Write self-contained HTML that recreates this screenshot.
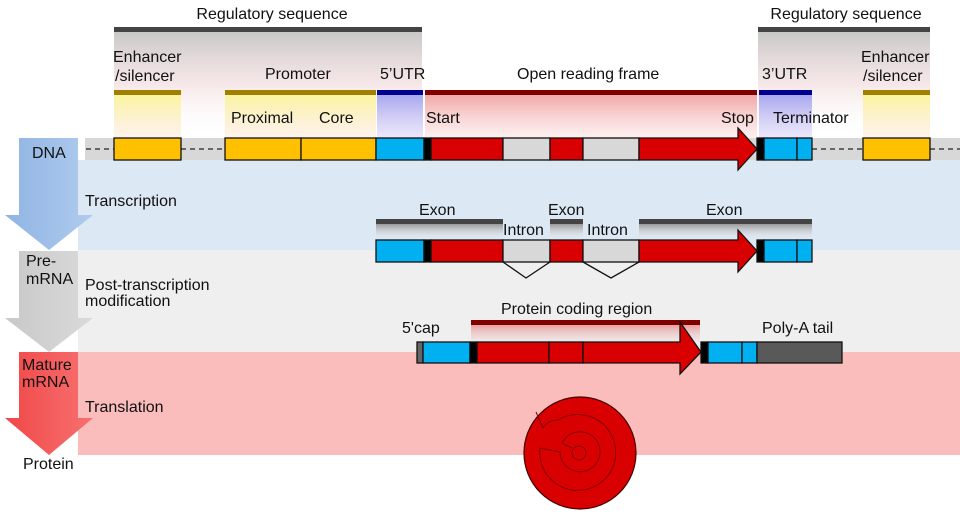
<!DOCTYPE html>
<html><head><style>
html,body{margin:0;padding:0;background:#fff;}
svg text{font-family:"Liberation Sans","DejaVu Sans",sans-serif;font-size:16px;fill:#111;}
</style></head><body>
<svg width="960" height="517" viewBox="0 0 960 517" xmlns="http://www.w3.org/2000/svg">
<defs>
<linearGradient id="gg" x1="0" y1="0" x2="0" y2="1"><stop offset="0" stop-color="#c8c8c8"/><stop offset="0.5" stop-color="#f0d8d8" stop-opacity="0.6"/><stop offset="1" stop-color="#fff" stop-opacity="0"/></linearGradient>
<linearGradient id="yg" x1="0" y1="0" x2="0" y2="1"><stop offset="0" stop-color="#fbf5a0"/><stop offset="1" stop-color="#fde8d8" stop-opacity="0.5"/></linearGradient>
<linearGradient id="bg" x1="0" y1="0" x2="0" y2="1"><stop offset="0" stop-color="#a8a8f0"/><stop offset="1" stop-color="#e0d8f8" stop-opacity="0.6"/></linearGradient>
<linearGradient id="rg" x1="0" y1="0" x2="0" y2="1"><stop offset="0" stop-color="#f0a8a8"/><stop offset="1" stop-color="#fbe0e0" stop-opacity="0.5"/></linearGradient>
<linearGradient id="dg" x1="0" y1="0" x2="0" y2="1"><stop offset="0" stop-color="#999"/><stop offset="1" stop-color="#eee" stop-opacity="0"/></linearGradient>
<linearGradient id="pg" x1="0" y1="0" x2="0" y2="1"><stop offset="0" stop-color="#e8a0a0"/><stop offset="1" stop-color="#f0d8d8" stop-opacity="0.3"/></linearGradient>
<linearGradient id="ab" x1="0" y1="0" x2="1" y2="0"><stop offset="0" stop-color="#8fb4e3"/><stop offset="1" stop-color="#b0cbee"/></linearGradient>
<linearGradient id="ag" x1="0" y1="0" x2="1" y2="0"><stop offset="0" stop-color="#c8c8c8"/><stop offset="1" stop-color="#dadada"/></linearGradient>
<linearGradient id="ar" x1="0" y1="0" x2="1" y2="0"><stop offset="0" stop-color="#f04848"/><stop offset="1" stop-color="#f87070"/></linearGradient>
</defs>

<rect x="78" y="160" width="882" height="90" fill="#dde8f5"/>
<rect x="78" y="250" width="882" height="102" fill="#efefef"/>
<rect x="78" y="352" width="882" height="103" fill="#fbbcbc"/>
<rect x="85" y="138" width="875" height="22" fill="#d8d8d8"/>

<path d="M19 138 H78 V215 H93 L49 250 L5 215 H19 Z" fill="url(#ab)"/>
<path d="M19 251 H78 V318 H93 L49 352 L5 318 H19 Z" fill="url(#ag)"/>
<path d="M19 352 H78 V418 H93 L49 455 L5 418 H19 Z" fill="url(#ar)"/>

<rect x="114" y="32" width="308" height="106" fill="url(#gg)"/>
<rect x="114" y="27" width="308" height="5" fill="#444"/>
<rect x="758" y="32" width="172" height="106" fill="url(#gg)"/>
<rect x="758" y="27" width="172" height="5" fill="#444"/>

<rect x="114" y="95" width="67" height="43" fill="url(#yg)"/>
<rect x="225" y="95" width="151" height="43" fill="url(#yg)"/>
<rect x="377" y="95" width="46" height="43" fill="url(#bg)"/>
<rect x="425" y="95" width="332" height="43" fill="url(#rg)"/>
<rect x="759" y="95" width="53" height="43" fill="url(#bg)"/>
<rect x="863" y="95" width="67" height="43" fill="url(#yg)"/>
<rect x="114" y="90" width="67" height="5" fill="#a08000"/>
<rect x="225" y="90" width="151" height="5" fill="#a08000"/>
<rect x="377" y="90" width="46" height="5" fill="#000090"/>
<rect x="425" y="90" width="332" height="5" fill="#800000"/>
<rect x="759" y="90" width="53" height="5" fill="#000090"/>
<rect x="863" y="90" width="67" height="5" fill="#a08000"/>

<g stroke="#222" stroke-width="1.2" stroke-dasharray="5,4" fill="none">
<line x1="86" y1="149" x2="114" y2="149"/><line x1="181" y1="149" x2="225" y2="149"/>
<line x1="812" y1="149" x2="863" y2="149"/><line x1="930" y1="149" x2="960" y2="149"/>
</g>
<g stroke="#111" stroke-width="1.3">
<rect x="114" y="138" width="67" height="22" fill="#ffc000"/>
<rect x="225" y="138" width="76" height="22" fill="#ffc000"/>
<rect x="301" y="138" width="75" height="22" fill="#ffc000"/>
<rect x="376" y="138" width="48" height="22" fill="#00b0f0"/>
<rect x="424" y="138" width="7" height="22" fill="#000"/>
<rect x="431" y="138" width="72" height="22" fill="#d80000"/>
<rect x="503" y="138" width="47" height="22" fill="#d8d8d8"/>
<rect x="550" y="138" width="33" height="22" fill="#d80000"/>
<rect x="583" y="138" width="56" height="22" fill="#d8d8d8"/>
<path d="M639 138 H738 V128 L757 149 L738 170 V160 H639 Z" fill="#d80000"/>
<rect x="757" y="138" width="7" height="22" fill="#000"/>
<rect x="764" y="138" width="33" height="22" fill="#00b0f0"/>
<rect x="797" y="138" width="15" height="22" fill="#00b0f0"/>
<rect x="863" y="138" width="67" height="22" fill="#ffc000"/>
</g>

<rect x="376" y="224" width="127" height="16" fill="url(#dg)"/>
<rect x="550" y="224" width="33" height="16" fill="url(#dg)"/>
<rect x="639" y="224" width="173" height="16" fill="url(#dg)"/>
<rect x="376" y="219" width="127" height="5" fill="#444"/>
<rect x="550" y="219" width="33" height="5" fill="#444"/>
<rect x="639" y="219" width="173" height="5" fill="#444"/>
<g stroke="#111" stroke-width="1.3">
<rect x="376" y="240" width="48" height="22" fill="#00b0f0"/>
<rect x="424" y="240" width="7" height="22" fill="#000"/>
<rect x="431" y="240" width="72" height="22" fill="#d80000"/>
<rect x="503" y="240" width="47" height="22" fill="#d8d8d8"/>
<rect x="550" y="240" width="33" height="22" fill="#d80000"/>
<rect x="583" y="240" width="56" height="22" fill="#d8d8d8"/>
<path d="M639 240 H738 V230 L757 251 L738 272 V262 H639 Z" fill="#d80000"/>
<rect x="757" y="240" width="7" height="22" fill="#000"/>
<rect x="764" y="240" width="33" height="22" fill="#00b0f0"/>
<rect x="797" y="240" width="15" height="22" fill="#00b0f0"/>
<polyline points="503,262 526,278 550,262" fill="none"/>
<polyline points="583,262 611,278 639,262" fill="none"/>
</g>

<rect x="471" y="325" width="229" height="17" fill="url(#pg)"/>
<rect x="471" y="320" width="229" height="5" fill="#800000"/>
<g stroke="#111" stroke-width="1.3">
<rect x="417" y="342" width="6" height="21" fill="#666"/>
<rect x="423" y="342" width="47" height="21" fill="#00b0f0"/>
<rect x="470" y="342" width="7" height="21" fill="#000"/>
<rect x="477" y="342" width="72" height="21" fill="#d80000"/>
<rect x="549" y="342" width="34" height="21" fill="#d80000"/>
<path d="M583 342 H680 V322 L701 352 L680 374 V363 H583 Z" fill="#d80000"/>
<rect x="701" y="342" width="7" height="21" fill="#000"/>
<rect x="708" y="342" width="34" height="21" fill="#00b0f0"/>
<rect x="742" y="342" width="15" height="21" fill="#00b0f0"/>
<rect x="757" y="342" width="85" height="21" fill="#595959"/>
</g>

<circle cx="580" cy="453" r="56" fill="#d80000" stroke="#400" stroke-width="1.2"/>
<g fill="none" stroke="#800" stroke-width="1">
<path d="M543 428 Q548 420 558 420 A38 38 0 1 1 540 448"/>
<path d="M540 448 L560 452 A20 20 0 1 0 562 443"/>
<path d="M562 443 L572 448"/>
<circle cx="579" cy="453" r="7"/>
<path d="M536 412 L543 428"/>
</g>

<text x="272" y="19" text-anchor="middle">Regulatory sequence</text>
<text x="846" y="19" text-anchor="middle">Regulatory sequence</text>
<text x="113" y="62">Enhancer</text>
<text x="115" y="81">/silencer</text>
<text x="265" y="79">Promoter</text>
<text x="380" y="79">5’UTR</text>
<text x="517" y="79">Open reading frame</text>
<text x="762" y="79">3’UTR</text>
<text x="861" y="62">Enhancer</text>
<text x="863" y="81">/silencer</text>
<text x="231" y="123">Proximal</text>
<text x="319" y="123">Core</text>
<text x="426" y="123">Start</text>
<text x="721" y="123">Stop</text>
<text x="773" y="123">Terminator</text>
<text x="32" y="158">DNA</text>
<text x="85" y="206">Transcription</text>
<text x="419" y="215">Exon</text>
<text x="548" y="215">Exon</text>
<text x="706" y="215">Exon</text>
<text x="503" y="235">Intron</text>
<text x="587" y="235">Intron</text>
<text x="26" y="266">Pre-</text>
<text x="26" y="284">mRNA</text>
<text x="85" y="290">Post-transcription</text>
<text x="85" y="306">modification</text>
<text x="501" y="314">Protein coding region</text>
<text x="402" y="333">5'cap</text>
<text x="762" y="333">Poly-A tail</text>
<text x="22" y="370">Mature</text>
<text x="22" y="387">mRNA</text>
<text x="85" y="412">Translation</text>
<text x="23" y="469">Protein</text>
</svg>
</body></html>
